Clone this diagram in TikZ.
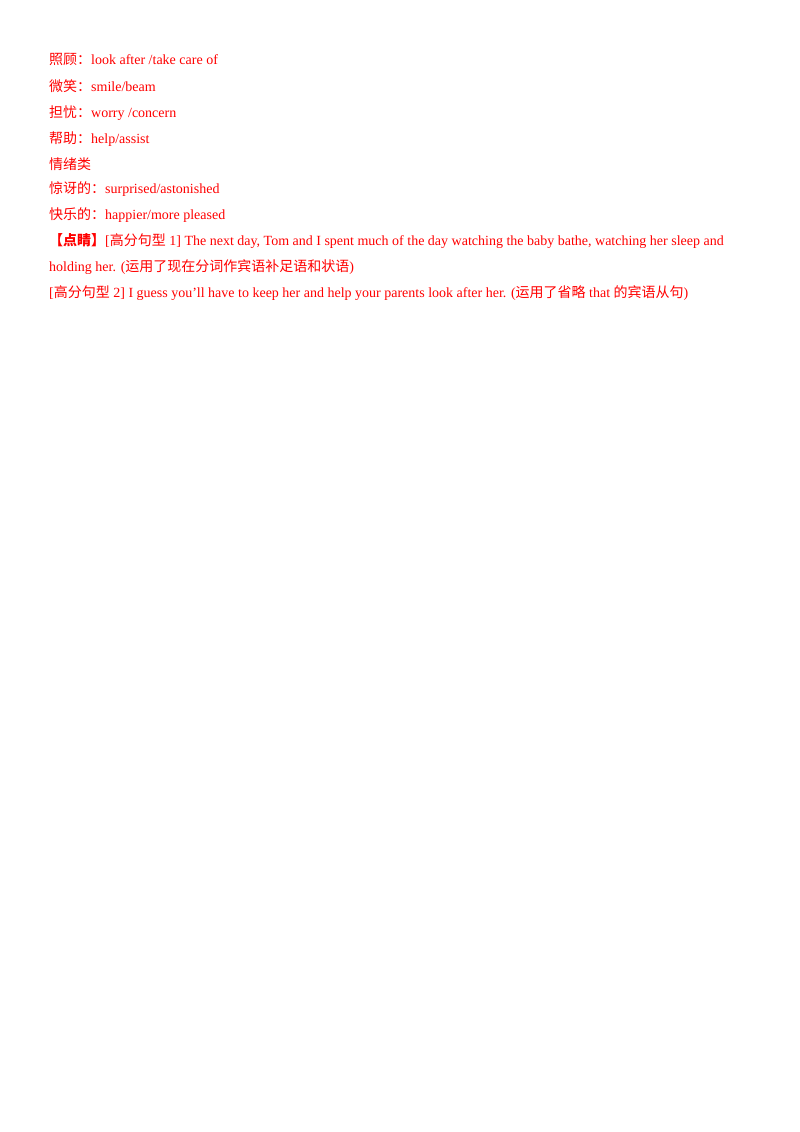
\documentclass[tikz,border=0pt]{standalone}
\usepackage{fontspec}
\setmainfont{Liberation Serif}
\newfontfamily\cjk{Noto Sans CJK SC}
\newcommand{\C}[1]{{\cjk #1}}
\begin{document}
\begin{tikzpicture}[x=1pt,y=-1pt]
\tikzset{ln/.style={anchor=base west,inner sep=0pt,text=red,font=\fontsize{14}{17}\selectfont}}
\useasboundingbox (0,0) rectangle (800,1132);
\node[ln] (l1) at (49,65) {\C{照顾：}look after /take care of};
\node[ln] (l2) at (49,91) {\C{微笑：}smile/beam};
\node[ln] (l3) at (49,117) {\C{担忧：}worry /concern};
\node[ln] (l4) at (49,143) {\C{帮助：}help/assist};
\node[ln] (l5) at (49,169) {\C{情绪类}};
\node[ln] (l6) at (49,193) {\C{惊讶的：}surprised/astonished};
\node[ln] (l7) at (49,219) {\C{快乐的：}happier/more pleased};
\node[ln] (l8) at (49,245) {{\cjk\bfseries 【点睛】}[\C{高分句型} 1] The next day, Tom and I spent much of the day watching the baby bathe, watching her sleep and};
\node[ln] (l9) at (49,271) {holding her. (\C{运用了现在分词作宾语补足语和状语})};
\node[ln] (l10) at (49,297) {[\C{高分句型} 2] I guess you’ll have to keep her and help your parents look after her. (\C{运用了省略} that \C{的宾语从句})};
\end{tikzpicture}
\end{document}
